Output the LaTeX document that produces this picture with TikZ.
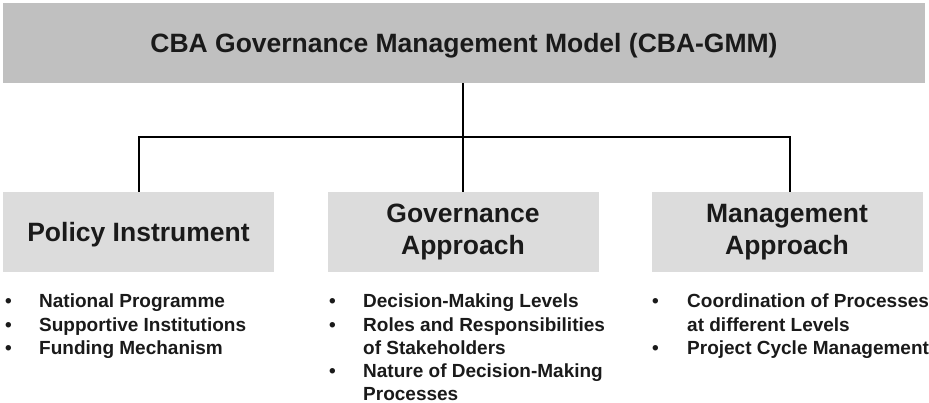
\documentclass[tikz,border=0pt]{standalone}
\usepackage{fontspec}
\setmainfont{Liberation Sans}
\definecolor{topgray}{HTML}{C0C0C0}
\definecolor{boxgray}{HTML}{DCDCDC}
\definecolor{ink}{HTML}{1A1A1A}
\newcommand\bulletcell[1]{\makebox[#1][l]{\textbullet}}
\begin{document}
\begin{tikzpicture}[x=1pt,y=1pt,
  topbox/.style={fill=topgray,draw=none,inner sep=0pt,minimum width=922pt,minimum height=80pt,
     text=ink,text height=22pt,text depth=2pt,font=\fontsize{26.5}{30}\selectfont\bfseries},
  catbox/.style={fill=boxgray,draw=none,inner sep=0pt,minimum width=271pt,minimum height=80pt,
     align=center,text=ink,font=\fontsize{26.5}{32}\selectfont\bfseries},
  oneline/.style={text height=22pt,text depth=2pt},
  listnode/.style={anchor=base west,inner sep=0pt,text=ink,font=\fontsize{19}{23.2}\selectfont\bfseries},
  conn/.style={line width=1.3pt,draw=black}]
\useasboundingbox (0,0) rectangle (929,403);
\node[topbox] (top) at (464,360) {CBA Governance Management Model (CBA-GMM)};
\node[catbox,oneline] (pi) at (138.5,171) {Policy Instrument};
\node[catbox] (ga) at (463,171) {Governance\\Approach};
\node[catbox] (ma) at (787,171) {Management\\Approach};
\coordinate (bus) at (463,266);
\draw[conn] (top.south -| bus) -- (bus);
\draw[conn] (pi.north -| 139,0) |- (bus) -| (ma.north -| 790,0);
\draw[conn] (bus) -- (ga.north);
\node[listnode] (l1) at (5,95) {\begin{tabular}[t]{@{}l@{}l@{}}
\bulletcell{34pt} & National Programme\\
\bulletcell{34pt} & Supportive Institutions\\
\bulletcell{34pt} & Funding Mechanism
\end{tabular}};
\node[listnode] (l2) at (329,95) {\begin{tabular}[t]{@{}l@{}l@{}}
\bulletcell{34pt} & Decision-Making Levels\\
\bulletcell{34pt} & Roles and Responsibilities\\
 & of Stakeholders\\
\bulletcell{34pt} & Nature of Decision-Making\\
 & Processes
\end{tabular}};
\node[listnode] (l3) at (652,95) {\begin{tabular}[t]{@{}l@{}l@{}}
\bulletcell{35pt} & Coordination of Processes\\
 & at different Levels\\
\bulletcell{35pt} & Project Cycle Management
\end{tabular}};
\end{tikzpicture}
\end{document}
